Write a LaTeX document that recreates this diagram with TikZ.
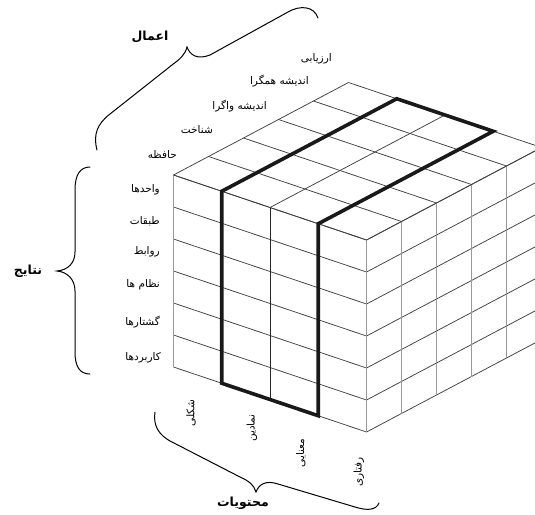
\documentclass[tikz,border=0pt]{standalone}
\usepackage{fontspec}
\newfontfamily\fa[Script=Arabic]{DejaVu Sans}
\TeXXeTstate=1
\usetikzlibrary{calc}
\begin{document}
\begin{tikzpicture}[x=1pt,y=-1pt,
  slant/.style={draw=black!75, line width=0.75pt},
  vert/.style={draw=black!40, line width=0.9pt},
  midvert/.style={draw=black!85, line width=0.8pt},
  boldline/.style={draw=black!90, line width=3.6pt, line join=miter},
  lab/.style={font=\fa\fontsize{10.5}{12}\selectfont, inner sep=0pt},
  ttl/.style={font=\fa\bfseries\fontsize{12.5}{14}\selectfont, inner sep=0pt},
  bracel/.style={draw=black, line width=1pt, line cap=round}]
\useasboundingbox (0,0) rectangle (535,514);
\clip (0,0) rectangle (535,514);
% front face rows
\foreach \j in {0,...,6}{
  \draw[slant] (173.5,{175+32*\j}) -- (366.5,{240+32*\j});
}
% front face verticals
\foreach \i in {0,1,3,4}{
  \draw[vert] ({173.5+48.25*\i},{175+16.25*\i}) -- ({173.5+48.25*\i},{367+16.25*\i});
}
\draw[midvert] ({173.5+48.25*2},{175+16.25*2}) -- ({173.5+48.25*2},{367+16.25*2});
% right face rows
\foreach \j in {0,...,6}{
  \draw[slant] (366.5,{240+32*\j}) -- (541.5,{147.5+32*\j});
}
% right face verticals
\foreach \k in {0,...,5}{
  \draw[vert] ({366.5+35*\k},{240-18.5*\k}) -- ({366.5+35*\k},{432-18.5*\k});
}
% top face
\foreach \k in {0,...,5}{
  \draw[slant] ({173.5+35*\k},{175-18.5*\k}) -- ({366.5+35*\k},{240-18.5*\k});
}
\foreach \i in {0,...,4}{
  \draw[slant] ({173.5+48.25*\i},{175+16.25*\i}) -- ({348.5+48.25*\i},{82.5+16.25*\i});
}
% bold slice
\draw[boldline] (221.75,383.25) -- (221.75,191.25) -- (396.75,98.75) -- (493.25,131.25) -- (318.25,223.75) -- (318.25,415.75) -- cycle;

% operations labels
\node[lab, anchor=east] (o1) at (177,155) {\beginR حافظه\endR};
\node[lab, anchor=east] (o2) at (213,130) {\beginR شناخت\endR};
\node[lab, anchor=east] (o3) at (267,106) {\beginR اندیشه واگرا\endR};
\node[lab, anchor=east] (o4) at (309,81) {\beginR اندیشه همگرا\endR};
\node[lab, anchor=east] (o5) at (332,59) {\beginR ارزیابی\endR};
% products labels
\node[lab, anchor=east] (p1) at (160,190) {\beginR واحدها\endR};
\node[lab, anchor=east] (p2) at (160,221) {\beginR طبقات\endR};
\node[lab, anchor=east] (p3) at (160,252) {\beginR روابط\endR};
\node[lab, anchor=east] (p4) at (160,285) {\beginR نظام ها\endR};
\node[lab, anchor=east] (p5) at (160,322) {\beginR گشتارها\endR};
\node[lab, anchor=east] (p6) at (161,358) {\beginR کاربردها\endR};
% contents labels
\node[lab, rotate=90] (c1) at (191,413) {\beginR شکلی\endR};
\node[lab, rotate=90] (c2) at (252,428) {\beginR نمادین\endR};
\node[lab, rotate=90] (c3) at (301,453) {\beginR معنایی\endR};
\node[lab, rotate=90] (c4) at (359,472) {\beginR رفتاری\endR};
% titles
\node[ttl] (t1) at (150,37) {\beginR اعمال\endR};
\node[ttl] (t2) at (28,271) {\beginR نتایج\endR};
\node[ttl] (t3) at (243,503) {\beginR محتویات\endR};
% braces
\draw[bracel] (90,167) .. controls (80,167) and (75,175) .. (75,190) -- (75,252)
  .. controls (75,263) and (68,270) .. (57,271)
  .. controls (68,272) and (75,280) .. (75,291) -- (75,352)
  .. controls (75,367) and (80,374) .. (90,374);
\draw[bracel] (97,150) .. controls (93,135) and (97,124) .. (110,114) -- (172,65)
  .. controls (180,59) and (185,55) .. (187,47)
  .. controls (190,55) and (197,60) .. (210,55) -- (288,12)
  .. controls (300,5) and (314,6) .. (318,18);
\draw[bracel] (155,412) .. controls (153,425) and (158,435) .. (172,442) -- (240,477)
  .. controls (249,481) and (254,485) .. (256,492)
  .. controls (259,484) and (266,480) .. (278,484) -- (355,507)
  .. controls (368,511) and (376,510) .. (379,503);
\end{tikzpicture}
\end{document}
